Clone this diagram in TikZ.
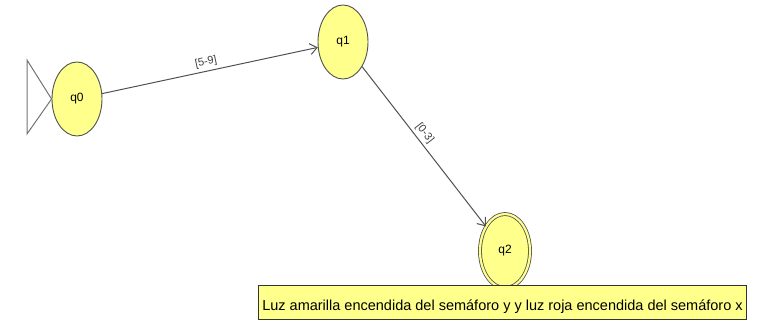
\documentclass[tikz,border=0pt]{standalone}
\usepackage{fontspec}
\setmainfont{Liberation Sans}
\usetikzlibrary{shapes.geometric,arrows.meta}
\definecolor{stfill}{HTML}{FFFF8C}
\definecolor{stline}{HTML}{505050}
\tikzset{
  state/.style={ellipse, draw=stline, fill=stfill, line width=0.9pt, inner sep=0pt,
    minimum width=50pt, minimum height=74pt, font=\fontsize{12}{14}\selectfont},
  accept/.style={state, double=stfill, double distance=2.2pt, line width=0.8pt},
  trans/.style={draw=stline, line width=1pt, -{Straight Barb[length=7pt,width=11pt,line width=1pt]}},
  elabel/.style={font=\fontsize{11}{12}\selectfont, text=black!75, sloped, above, inner sep=3pt},
  notebox/.style={draw=black!80, fill=stfill, line width=1pt, minimum width=488pt,
    minimum height=34pt, inner sep=0pt, text depth=0pt, font=\fontsize{14.5}{16}\selectfont},
  initmark/.style={draw=stline!80, line width=1pt}
}
\begin{document}
\begin{tikzpicture}[x=1pt,y=-1pt]
\useasboundingbox (0,0) rectangle (758,321);
\node[state] (q0) at (77,99) {q0};
\node[state] (q1) at (343,42) {q1};
\node[accept] (q2) at (505,251) {q2};
\node[notebox, anchor=north west] (note) at (258,285) {\raisebox{-6pt}{Luz amarilla encendida del semáforo y y luz roja encendida del semáforo x}};
\coordinate (t1) at (27,60);
\coordinate (t2) at (27,134);
\draw[initmark] (t1) -- (q0.west) -- (t2) -- cycle;
\draw[trans] (q0) -- node[elabel, pos=0.49] {[5-9]} (q1);
\draw[trans] (q1) -- node[elabel, pos=0.45] {[0-3]} (q2);
\end{tikzpicture}
\end{document}
